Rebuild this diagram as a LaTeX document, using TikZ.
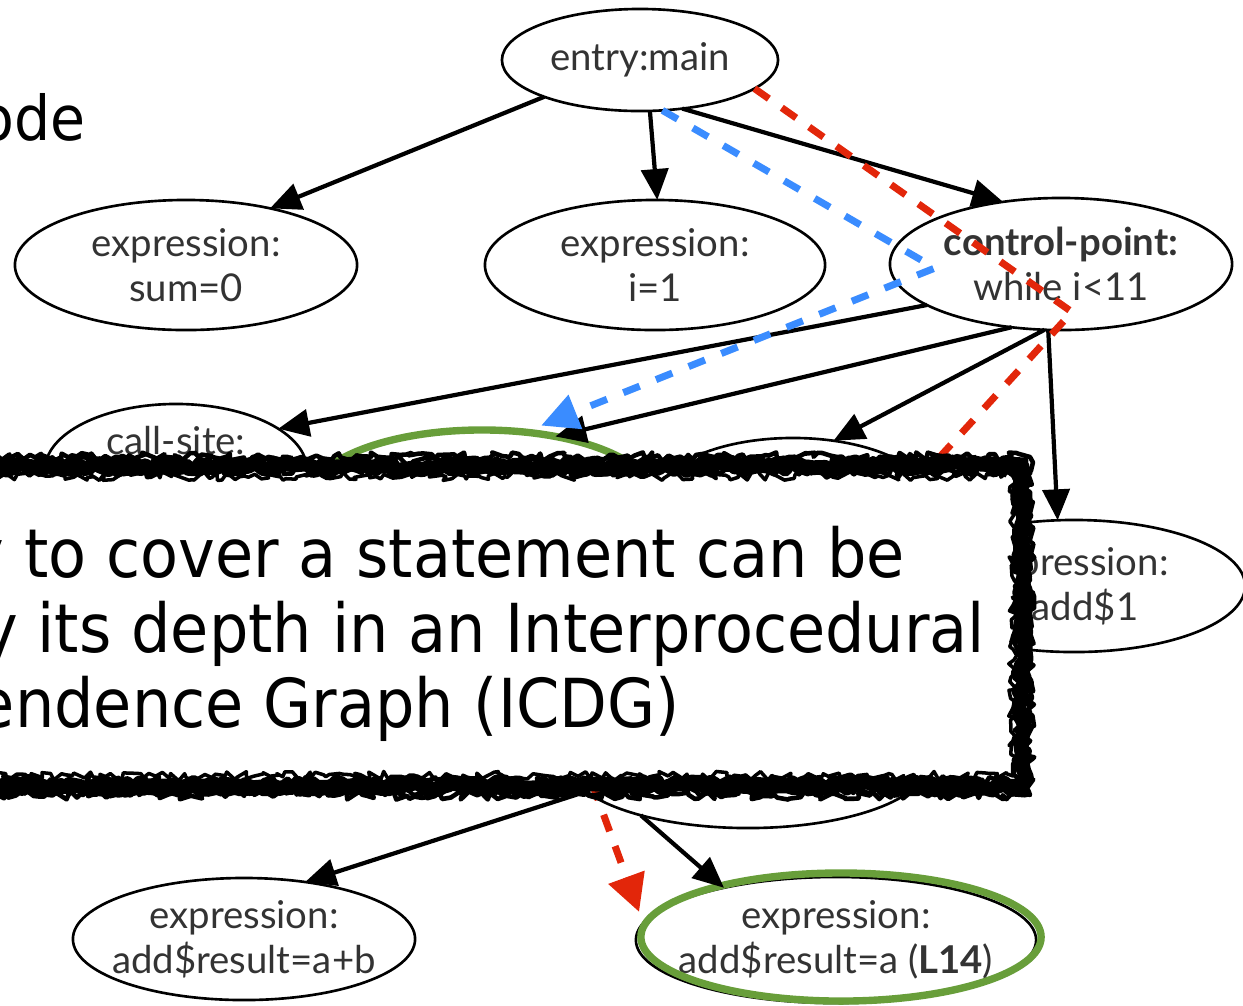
\documentclass[tikz,border=0pt]{standalone}
\usepackage{fontspec}
\setmainfont{Lato}
\newfontfamily\slidefont[FakeStretch=0.92]{DejaVu Sans}
\usetikzlibrary{shapes.geometric,arrows.meta,decorations.pathmorphing}
\definecolor{txt}{HTML}{333333}
\definecolor{pathred}{RGB}{226,38,10}
\definecolor{pathblue}{RGB}{58,140,255}
\definecolor{hlgreen}{RGB}{104,158,58}
% zero-width centred line, so long labels do not widen the ellipse
\newcommand{\zl}[1]{\makebox[0pt]{#1}}
\begin{document}
\begin{tikzpicture}[x=0.01cm,y=-0.01cm,
  stmt/.style={ellipse,draw=black,line width=0.75pt,inner sep=0pt,outer sep=0pt,
    align=center,text=txt,font=\fontsize{10.9}{12.8}\selectfont},
  ring/.style={ellipse,draw=hlgreen,line width=2.1pt,inner sep=0pt,outer sep=0pt},
  dep/.style={draw=black,line width=1.2pt,-{Triangle[length=8.8pt,width=7.7pt]}},
  redpath/.style={draw=pathred,line width=2pt,dash pattern=on 5pt off 4.5pt,
    -{Triangle[length=10.5pt,width=10.5pt]}},
  bluepath/.style={draw=pathblue,line width=2pt,dash pattern=on 5pt off 5pt,
    -{Triangle[length=10.5pt,width=10pt]}},
  rough/.style={draw=black,decorate,line join=round,line cap=round,
    decoration={random steps,segment length=1.4pt,amplitude=1.3pt}},
  boxtext/.style={inner sep=0pt,outer sep=0pt,font=\slidefont\fontsize{19.2}{21}\selectfont}
]
\useasboundingbox (0,0) rectangle (1243,1005);
\clip (0,0) rectangle (1243,1005);

% heading fragment
\node[inner sep=0pt,anchor=base east,font=\slidefont\fontsize{17.6}{20}\selectfont] (head) at (86,140) {ode};

% statement nodes
\node[stmt,minimum width=2.76cm,minimum height=1.02cm] (entry) at (640,60) {\zl{entry:main}};
\node[stmt,minimum width=3.42cm,minimum height=1.30cm] (sum) at (186,265) {\zl{expression:}\\\zl{sum=0}};
\node[stmt,minimum width=3.40cm,minimum height=1.30cm] (ione) at (655,265) {\zl{expression:}\\\zl{i=1}};
\node[stmt,minimum width=3.42cm,minimum height=1.32cm] (ctrl) at (1061,264) {\zl{\textbf{control-point:}}\\\zl{while i<11}};
\node[stmt,minimum width=2.62cm,minimum height=1.32cm] (call) at (176,470) {\zl{call-site:}\\\zl{\strut}};
\node[ring,minimum width=3.44cm,minimum height=1.36cm] (green) at (482,498) {};
\node[stmt,minimum width=2.80cm,minimum height=1.30cm] (mid) at (793,503) {};
\node[stmt,minimum width=3.42cm,minimum height=1.32cm] (addone) at (1074,586) {\zl{expression:}\\\zl{\#add\$1}};
\node[stmt,minimum width=3.60cm,minimum height=1.30cm] (bc) at (748,763) {};
\node[stmt,minimum width=3.42cm,minimum height=1.22cm] (sumab) at (244,939) {\zl{expression:}\\\zl{add\$result=a+b}};
\node[stmt,minimum width=4.00cm,minimum height=1.26cm] (l14) at (836,940) {\zl{expression:}\\\zl{add\$result=a (\textbf{L14})}};
\node[ring,minimum width=4.00cm,minimum height=1.28cm] (l14ring) at (841,937) {};

% control dependences
\draw[dep] (entry.201) -- (sum.34);
\draw[dep] (entry.281) -- (ione.88);
\draw[dep] (entry.311) -- (ctrl.133);
\draw[dep] (ctrl.197) -- (call.22);
\draw[dep] (ctrl.232) -- (green.40);
\draw[dep] (ctrl.256) -- (mid.57);
\draw[dep] (ctrl.259) -- (addone.104);
\draw[dep] (bc.190) -- (sumab.43);
\draw[dep] (bc.206) -- (l14.155);

% highlighted paths
\coordinate (bturn) at (935,268);
\draw[bluepath,shorten >=5pt] (entry.294) -- (bturn) -- (green.57);
\coordinate (rturn1) at (1072,312);
\coordinate (rturn2) at (905,495);
\coordinate (rturn3) at (588,772);
\draw[redpath,shorten >=3.4pt] (entry.346) -- (rturn1) -- (rturn2) -- (rturn3) -- (l14.175);

% sketched callout box
\fill[white] (-60,466) rectangle (1022,786);
\pgfmathsetseed{42}
\draw[rough,line width=4.2pt] (-60,466) -- (1022,466) -- (1022,786) -- (-60,786);
\draw[rough,line width=1.3pt] (-60,457) -- (1030,457) -- (1030,795) -- (-60,795);
\draw[rough,line width=1.3pt] (-60,461) -- (1026,461) -- (1026,791) -- (-60,791);
\draw[rough,line width=1.3pt] (-60,471) -- (1017,471) -- (1017,781) -- (-60,781);
\draw[rough,line width=1pt] (-60,476) -- (1013,476) -- (1013,776) -- (-60,776);

\node[boxtext,anchor=base east] (l1) at (905,577) {y to cover a statement can be};
\node[boxtext,anchor=base east] (l2) at (985,652) {y its depth in an Interprocedural};
\node[boxtext,anchor=base east] (l3) at (680,727) {endence Graph (ICDG)};
\end{tikzpicture}
\end{document}
